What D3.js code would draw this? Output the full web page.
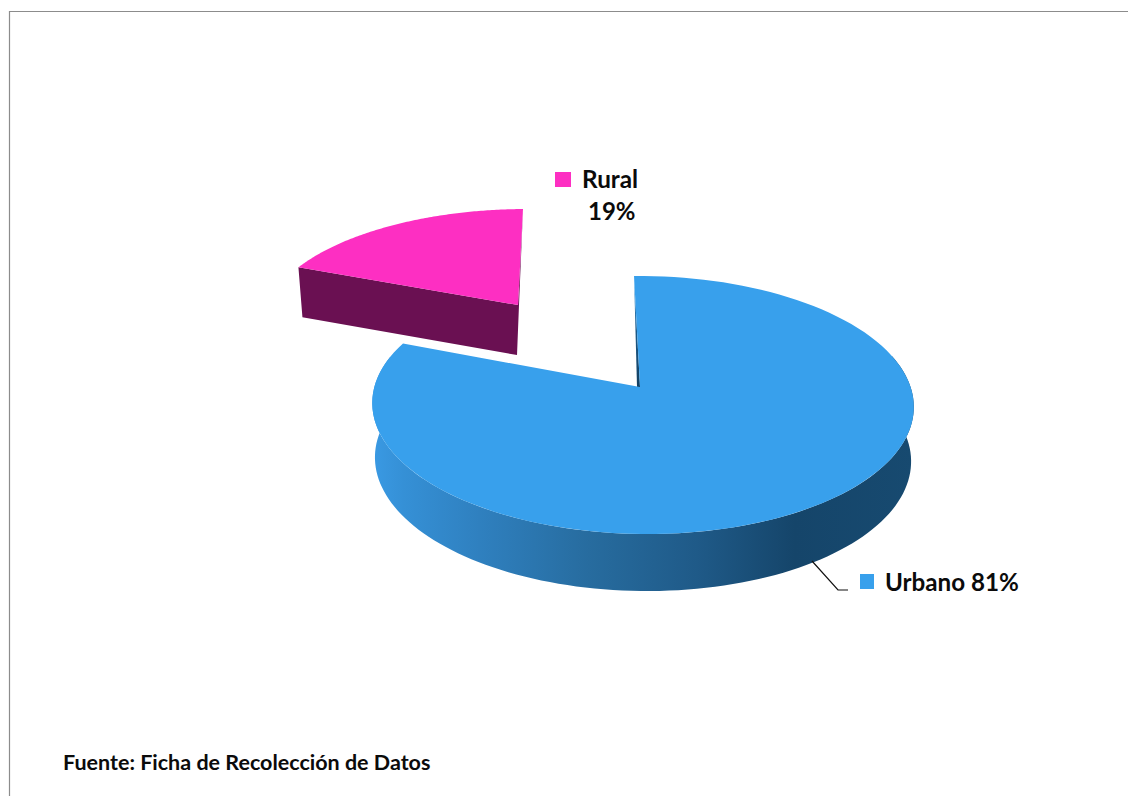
<!DOCTYPE html>
<html>
<head>
<meta charset="utf-8">
<script src="https://cdn.jsdelivr.net/npm/d3@7"></script>
<style>
  html, body { margin: 0; padding: 0; background: #fff; }
  svg { display: block; }
  text { font-family: Lato, "Open Sans", sans-serif; font-weight: 700; fill: #0b0b0b; }
</style>
</head>
<body>
<svg id="chart" width="1128" height="796"></svg>
<script>
// Zona de residencia: porcentajes por categoría
const categories = ["Urbano", "Rural"];
const percentages = [81, 19];
const topColors = ["#38a0ec", "#fd2fc2"];
const sourceNote = "Fuente: Ficha de Recolección de Datos";

const svg = d3.select("#chart");

// Perspective projection of the unit disc onto the page. u points to the viewer, v to the right.
function projector(p) {
  return (angle, radius) => {
    const u = -Math.cos(angle) * radius;
    const v = Math.sin(angle) * radius;
    const w = 1 - p.k * u - p.m * v;
    return [p.x0 + (p.b * v + p.s * u) / w, p.y0 + p.a * u / w];
  };
}

const urbanoTop = { x0: 637, y0: 387, a: 126.5, b: 268, k: 0.1395, m: 0.0203, s: 3.4 };
const ruralTop = { x0: 518, y0: 305, a: 109.4, b: 255, k: 0.1395, m: 0.0203, s: -5.7 };

const arcs = d3.pie().sort(null).value(d => d).startAngle(0).endAngle(2 * Math.PI)(percentages);
const line = d3.line();

function rim(project, a0, a1) {
  return d3.range(0, 121).map(i => project(a0 + (a1 - a0) * i / 120, 1));
}

// Shading along the outer wall of the large slice
const defs = svg.append("defs");
const wallGradient = defs.append("linearGradient")
  .attr("id", "wallShade")
  .attr("gradientUnits", "userSpaceOnUse")
  .attr("x1", 371).attr("x2", 914).attr("y1", 0).attr("y2", 0);
[[0, "#3a9ae4"], [0.06, "#3590d6"], [0.2, "#2f80bf"], [0.4, "#276c9f"],
 [0.6, "#1f5a88"], [0.78, "#15456a"], [1, "#174a70"]].forEach(([o, c]) => {
  wallGradient.append("stop").attr("offset", o).attr("stop-color", c);
});
const sliverGradient = defs.append("linearGradient")
  .attr("id", "sliverShade").attr("x1", 0).attr("x2", 0).attr("y1", 0).attr("y2", 1);
sliverGradient.append("stop").attr("offset", 0).attr("stop-color", "#38a0ec");
sliverGradient.append("stop").attr("offset", 0.45).attr("stop-color", "#1c5c8c");
sliverGradient.append("stop").attr("offset", 1).attr("stop-color", "#123f61");

// Frame
svg.append("path")
  .attr("d", "M9.5,796V11.5H1128")
  .attr("fill", "none").attr("stroke", "#8c8c8c").attr("stroke-width", 1.2);

// Urbano: the bottom rim sits lower and slightly narrower than the top one
const urbanoArc = arcs[0];
const projectUrbano = projector(urbanoTop);
function urbanoBottom(pt) {
  const uShare = (pt[1] - urbanoTop.y0) / 147;
  const depth = 54 + 3 * uShare;
  return [urbanoTop.x0 + 5 + (pt[0] - urbanoTop.x0 - 5) * 0.99, pt[1] + depth];
}
const wallTop = rim(projectUrbano, Math.PI * 0.42, Math.PI * 1.58);
svg.append("path")
  .attr("d", line(wallTop.concat(wallTop.map(urbanoBottom).reverse())) + "Z")
  .attr("fill", "url(#wallShade)");

// Sliver of the cut face along the start of the slice
const urbanoApex = [urbanoTop.x0, urbanoTop.y0];
const faceApex = [urbanoApex[0] + 3, urbanoApex[1]];
const startRim = projectUrbano(urbanoArc.startAngle, 1);
svg.append("path")
  .attr("d", line([startRim, urbanoApex, faceApex]) + "Z")
  .attr("fill", "url(#sliverShade)");

svg.append("path")
  .attr("d", line([faceApex].concat(rim(projectUrbano, urbanoArc.startAngle, urbanoArc.endAngle))) + "Z")
  .attr("fill", topColors[0]);

// Rural: exploded slice with its cut face showing
const ruralArc = arcs[1];
const projectRural = projector(ruralTop);
const ruralApex = [ruralTop.x0, ruralTop.y0];
const ruralLeft = projectRural(ruralArc.startAngle, 1);
const ruralRight = projectRural(ruralArc.endAngle, 1);
const ruralDepth = 50;
svg.append("path")
  .attr("d", line([
    ruralLeft, ruralApex, ruralRight,
    [ruralApex[0] + 1, ruralApex[1]],
    [ruralApex[0] - 1, ruralApex[1] + ruralDepth],
    [ruralLeft[0] + 4, ruralLeft[1] + ruralDepth]
  ]) + "Z")
  .attr("fill", "#6a1052");
svg.append("path")
  .attr("d", line([ruralApex].concat(rim(projectRural, ruralArc.startAngle, ruralArc.endAngle))) + "Z")
  .attr("fill", topColors[1]);

// Labels
svg.append("rect").attr("x", 555).attr("y", 172).attr("width", 16).attr("height", 15).attr("fill", topColors[1]);
svg.append("text").attr("x", 582).attr("y", 188).attr("font-size", 24.3).text(categories[1]);
svg.append("text").attr("x", 588).attr("y", 220).attr("font-size", 24).text(percentages[1] + "%");

svg.append("path")
  .attr("d", "M812,561L838,590H848")
  .attr("fill", "none").attr("stroke", "#111").attr("stroke-width", 1.2);
svg.append("rect").attr("x", 860).attr("y", 574).attr("width", 14).attr("height", 15).attr("fill", topColors[0]);
svg.append("text").attr("x", 885).attr("y", 591).attr("font-size", 24.2).text(categories[0] + " " + percentages[0] + "%");

svg.append("text").attr("x", 63).attr("y", 770).attr("font-size", 21.5).text(sourceNote);
</script>
</body>
</html>
